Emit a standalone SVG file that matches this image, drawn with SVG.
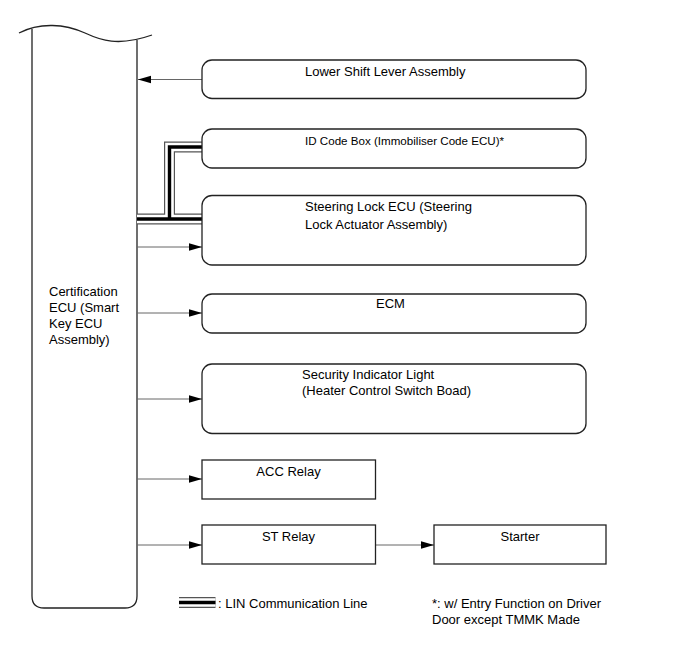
<svg xmlns="http://www.w3.org/2000/svg" width="691" height="660" viewBox="0 0 691 660">
<style>
text{font-family:"Liberation Sans",Arial,sans-serif;font-size:13px;fill:#000}
.box{fill:#fff;stroke:#222;stroke-width:1.3}
.ln{fill:none;stroke:#666;stroke-width:1}
.linA{fill:none;stroke:#555;stroke-width:11;stroke-linecap:butt;stroke-linejoin:miter}
.linB{fill:none;stroke:#fff;stroke-width:8.6;stroke-linecap:butt;stroke-linejoin:miter}
.linC{fill:none;stroke:#000;stroke-width:3.4;stroke-linecap:butt;stroke-linejoin:miter}
</style>
<defs>
<marker id="ah" markerUnits="userSpaceOnUse" markerWidth="14" markerHeight="10" refX="13" refY="5" orient="auto">
<path d="M0,1.2 L13,5 L0,8.8 Z" fill="#000"/>
</marker>
</defs>
<rect width="691" height="660" fill="#fff"/>

<g id="cert-ecu">
<path d="M32,29 V596 Q32,608 44,608 H125 Q137,608 137,596 V40" fill="none" stroke="#222" stroke-width="1.3"/>
<path d="M19,33 C40,22 65,24 85,33 C100,40 118,47 152,35" fill="none" stroke="#222" stroke-width="1.3"/>
<text x="49" y="296">Certification</text>
<text x="49" y="312">ECU (Smart</text>
<text x="49" y="328">Key ECU</text>
<text x="49" y="344">Assembly)</text>
</g>

<g id="connectors">
<line class="ln" x1="202" y1="79.5" x2="138" y2="79.5" marker-end="url(#ah)"/>
<line class="ln" x1="137" y1="247" x2="202" y2="247" marker-end="url(#ah)"/>
<line class="ln" x1="137" y1="313" x2="202" y2="313" marker-end="url(#ah)"/>
<line class="ln" x1="137" y1="399" x2="202" y2="399" marker-end="url(#ah)"/>
<line class="ln" x1="137" y1="479" x2="202" y2="479" marker-end="url(#ah)"/>
<line class="ln" x1="137" y1="545" x2="202" y2="545" marker-end="url(#ah)"/>
<line class="ln" x1="376" y1="545" x2="434" y2="545" marker-end="url(#ah)"/>
<g id="lin-bus">
<path class="linA" d="M137,219 H202 M202,147 H169.5 V219"/>
<path class="linB" d="M137,219 H202 M202,147 H169.5 V219"/>
<path class="linC" d="M137,219 H202 M202,147 H169.5 V219"/>
</g>
</g>

<g id="lower-shift">
<rect class="box" x="202" y="60" width="384" height="38.5" rx="10"/>
<text x="305" y="76">Lower Shift Lever Assembly</text>
</g>
<g id="id-code-box">
<rect class="box" x="202" y="129" width="384" height="39" rx="10"/>
<text x="305" y="145" style="font-size:11.6px">ID Code Box (Immobiliser Code ECU)*</text>
</g>
<g id="steering-lock">
<rect class="box" x="202" y="195.5" width="384" height="69.5" rx="10"/>
<text x="305" y="211">Steering Lock ECU (Steering</text>
<text x="305" y="229">Lock Actuator Assembly)</text>
</g>
<g id="ecm">
<rect class="box" x="202" y="294" width="384" height="39" rx="10"/>
<text x="376" y="308">ECM</text>
</g>
<g id="security">
<rect class="box" x="202" y="364" width="384" height="69.5" rx="10"/>
<text x="302" y="379">Security Indicator Light</text>
<text x="302" y="395">(Heater Control Switch Boad)</text>
</g>
<g id="acc-relay">
<rect class="box" x="202" y="460" width="173.5" height="39" rx="0"/>
<text x="288.5" y="476" text-anchor="middle">ACC Relay</text>
</g>
<g id="st-relay">
<rect class="box" x="202" y="525" width="173.5" height="39" rx="0"/>
<text x="288.5" y="541" text-anchor="middle">ST Relay</text>
</g>
<g id="starter">
<rect class="box" x="434" y="525" width="172" height="39" rx="0"/>
<text x="520" y="541" text-anchor="middle">Starter</text>
</g>

<g id="legend">
<path class="linA" d="M179,602.5 H215.5"/>
<path class="linB" d="M179,602.5 H215.5"/>
<path class="linC" d="M179,602.5 H215.5"/>
<text x="218" y="608">: LIN Communication Line</text>
<text x="432" y="608">*: w/ Entry Function on Driver</text>
<text x="432" y="624">Door except TMMK Made</text>
</g>
</svg>
